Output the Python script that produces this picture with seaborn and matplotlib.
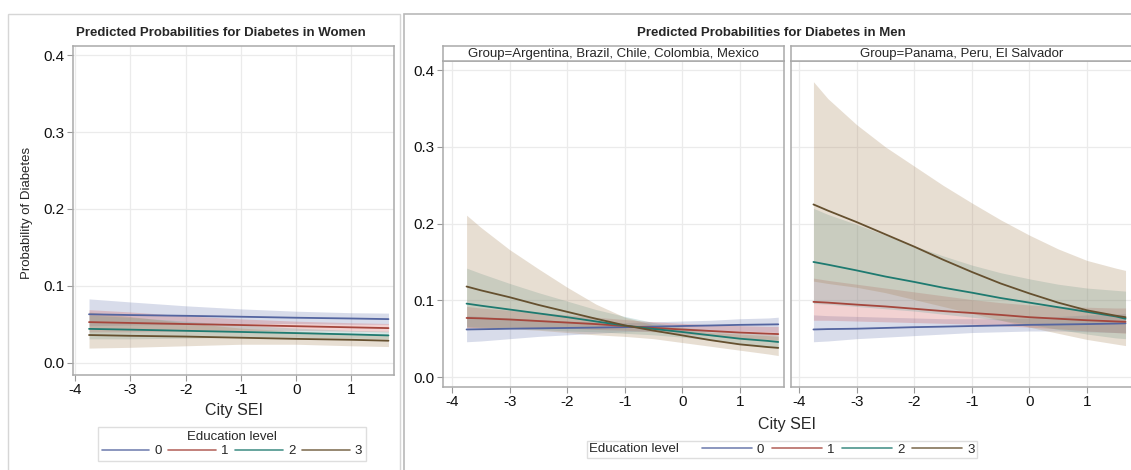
import numpy as np
import pandas as pd
import seaborn as sns
import matplotlib.pyplot as plt
from matplotlib.lines import Line2D
from matplotlib.patches import Rectangle
from matplotlib.offsetbox import HPacker

sns.set_style("whitegrid")
plt.rcParams['font.family'] = ['Liberation Sans', 'DejaVu Sans']
plt.rcParams['axes.unicode_minus'] = False

sei_women = [-3.75, -3, -2, -1, 0, 1, 1.67]
sei_men = [-3.75, -3.5, -3, -2.5, -2, -1.5, -1, -0.5, 0, 0.5, 1, 1.5, 1.67]
edu_levels = [0, 1, 2, 3]

# Women: predicted probability and confidence limits per education level
women_mid = {
    0: [0.063, 0.062, 0.061, 0.0598, 0.0585, 0.0575, 0.0567],
    1: [0.0528, 0.0517, 0.0503, 0.049, 0.0475, 0.046, 0.045],
    2: [0.044, 0.043, 0.0415, 0.040, 0.0385, 0.0368, 0.0355],
    3: [0.036, 0.035, 0.034, 0.0325, 0.031, 0.0298, 0.0286],
}
women_lo = {
    0: [0.048, 0.049, 0.050, 0.051, 0.051, 0.050, 0.050],
    1: [0.040, 0.040, 0.041, 0.042, 0.042, 0.041, 0.040],
    2: [0.031, 0.031, 0.032, 0.033, 0.033, 0.032, 0.031],
    3: [0.019, 0.020, 0.022, 0.024, 0.024, 0.022, 0.021],
}
women_hi = {
    0: [0.083, 0.079, 0.074, 0.070, 0.067, 0.065, 0.0645],
    1: [0.069, 0.066, 0.061, 0.057, 0.054, 0.052, 0.051],
    2: [0.062, 0.059, 0.054, 0.049, 0.045, 0.042, 0.041],
    3: [0.066, 0.060, 0.052, 0.045, 0.041, 0.038, 0.037],
}

# Men, Group = Argentina, Brazil, Chile, Colombia, Mexico
men_a_mid = {
    0: [0.062, 0.0623, 0.063, 0.0635, 0.064, 0.0645, 0.065, 0.0657, 0.0665, 0.0672, 0.068, 0.0685, 0.0687],
    1: [0.077, 0.0765, 0.075, 0.073, 0.071, 0.069, 0.0665, 0.064, 0.062, 0.060, 0.058, 0.0565, 0.056],
    2: [0.0957, 0.093, 0.088, 0.083, 0.078, 0.0725, 0.067, 0.0627, 0.0587, 0.0543, 0.050, 0.047, 0.0457],
    3: [0.118, 0.113, 0.104, 0.094, 0.085, 0.076, 0.0674, 0.0605, 0.0543, 0.048, 0.0426, 0.039, 0.038],
}
men_a_lo = {
    0: [0.046, 0.047, 0.050, 0.053, 0.055, 0.057, 0.059, 0.060, 0.060, 0.060, 0.060, 0.059, 0.058],
    1: [0.064, 0.064, 0.065, 0.064, 0.064, 0.062, 0.061, 0.059, 0.056, 0.054, 0.051, 0.049, 0.048],
    2: [0.066, 0.065, 0.064, 0.062, 0.060, 0.059, 0.057, 0.055, 0.052, 0.048, 0.043, 0.039, 0.038],
    3: [0.065, 0.064, 0.063, 0.061, 0.058, 0.055, 0.053, 0.050, 0.045, 0.040, 0.035, 0.030, 0.028],
}
men_a_hi = {
    0: [0.080, 0.079, 0.077, 0.075, 0.073, 0.072, 0.071, 0.072, 0.073, 0.074, 0.076, 0.077, 0.078],
    1: [0.092, 0.090, 0.087, 0.084, 0.081, 0.078, 0.075, 0.072, 0.070, 0.068, 0.067, 0.066, 0.066],
    2: [0.142, 0.135, 0.122, 0.110, 0.099, 0.088, 0.079, 0.071, 0.065, 0.061, 0.058, 0.056, 0.055],
    3: [0.211, 0.195, 0.166, 0.141, 0.117, 0.095, 0.078, 0.068, 0.062, 0.058, 0.056, 0.054, 0.053],
}

# Men, Group = Panama, Peru, El Salvador
men_b_mid = {
    0: [0.062, 0.0625, 0.063, 0.064, 0.065, 0.0657, 0.0665, 0.0672, 0.068, 0.0685, 0.069, 0.0697, 0.070],
    1: [0.098, 0.097, 0.0944, 0.092, 0.089, 0.086, 0.0835, 0.081, 0.078, 0.076, 0.074, 0.0725, 0.072],
    2: [0.150, 0.1465, 0.139, 0.131, 0.124, 0.1165, 0.110, 0.103, 0.097, 0.091, 0.085, 0.079, 0.076],
    3: [0.225, 0.217, 0.202, 0.186, 0.170, 0.153, 0.137, 0.122, 0.109, 0.097, 0.087, 0.080, 0.078],
}
men_b_lo = {
    0: [0.046, 0.047, 0.050, 0.052, 0.054, 0.056, 0.058, 0.059, 0.060, 0.060, 0.059, 0.058, 0.058],
    1: [0.074, 0.074, 0.073, 0.072, 0.071, 0.070, 0.069, 0.067, 0.065, 0.063, 0.060, 0.058, 0.057],
    2: [0.096, 0.095, 0.092, 0.089, 0.086, 0.082, 0.078, 0.074, 0.069, 0.062, 0.056, 0.051, 0.050],
    3: [0.125, 0.122, 0.117, 0.110, 0.101, 0.092, 0.083, 0.074, 0.065, 0.057, 0.049, 0.043, 0.041],
}
men_b_hi = {
    0: [0.081, 0.080, 0.079, 0.078, 0.077, 0.076, 0.076, 0.076, 0.077, 0.079, 0.081, 0.082, 0.083],
    1: [0.129, 0.126, 0.121, 0.116, 0.111, 0.106, 0.101, 0.097, 0.094, 0.092, 0.091, 0.090, 0.090],
    2: [0.220, 0.212, 0.199, 0.185, 0.171, 0.158, 0.146, 0.136, 0.128, 0.121, 0.116, 0.113, 0.112],
    3: [0.385, 0.363, 0.329, 0.300, 0.275, 0.250, 0.227, 0.205, 0.185, 0.167, 0.152, 0.142, 0.139],
}

x_ticks = [-4, -3, -2, -1, 0, 1]
y_ticks = [0.0, 0.1, 0.2, 0.3, 0.4]

line_colors = {0: "#5465a0", 1: "#a5463c", 2: "#1e7a70", 3: "#65502f"}
fill_colors = {0: "#6f7eb3", 1: "#d05b5b", 2: "#66a5a0", 3: "#a9865b"}

W, H = 1131, 470


def fig_rect(l, t, r, b):
    return [l / W, 1 - b / H, (r - l) / W, (b - t) / H]


def draw_panel(ax, xs, mid, lo, hi, xlim, ylim, show_y=True):
    rows = []
    for lvl in edu_levels:
        for xv, yv in zip(xs, mid[lvl]):
            rows.append({"sei": xv, "prob": yv, "edu": lvl})
    df = pd.DataFrame(rows)
    for lvl in edu_levels:
        ax.fill_between(xs, lo[lvl], hi[lvl], color=fill_colors[lvl], alpha=0.27, lw=0)
    sns.lineplot(data=df, x="sei", y="prob", hue="edu", palette=line_colors,
                 ax=ax, legend=False, linewidth=1.3)
    ax.set_xlim(*xlim)
    ax.set_ylim(*ylim)
    ax.set_xticks(x_ticks)
    ax.set_yticks(y_ticks)
    ax.yaxis.set_major_formatter("{x:.1f}")
    ax.set_xlabel("")
    ax.set_ylabel("")
    ax.grid(color="#ebebeb", lw=0.9)
    ax.tick_params(bottom=True, left=show_y, length=4, color="#999999",
                   labelsize=11, pad=2, labelcolor="#111111")
    if not show_y:
        ax.set_yticklabels([])
    for sp in ax.spines.values():
        sp.set_color("#aaaaaa")
        sp.set_linewidth(1.1)


fig = plt.figure(figsize=(W / 100, H / 100), dpi=100)

# outer frames
fig.add_artist(Rectangle((8 / W, -0.01), (400 - 8) / W, 1 - 14 / H + 0.01,
                         transform=fig.transFigure, fill=False, ec="#d6d6d6", lw=1))
fig.add_artist(Rectangle((404 / W, -0.01), (1140 - 404) / W, 1 - 14 / H + 0.01,
                         transform=fig.transFigure, fill=False, ec="#b9b9b9", lw=1.2))

# women
ax_w = fig.add_axes(fig_rect(73, 46, 394, 375))
draw_panel(ax_w, sei_women, women_mid, women_lo, women_hi, (-4.04, 1.77), (-0.016, 0.412))
fig.text(221 / W, 1 - 33 / H, "Predicted Probabilities for Diabetes in Women",
         ha="center", va="center", fontsize=9.5, fontweight="bold")
fig.text(27 / W, 1 - 213 / H, "Probability of Diabetes", rotation=90,
         ha="center", va="center", fontsize=9.5)
fig.text(234 / W, 1 - 410 / H, "City SEI", ha="center", va="center", fontsize=11.5)

# men
ax_a = fig.add_axes(fig_rect(443, 61, 784, 387))
draw_panel(ax_a, sei_men, men_a_mid, men_a_lo, men_a_hi, (-4.16, 1.77), (-0.013, 0.412))
ax_b = fig.add_axes(fig_rect(791, 61, 1133, 387))
draw_panel(ax_b, sei_men, men_b_mid, men_b_lo, men_b_hi, (-4.14, 1.80), (-0.013, 0.412),
           show_y=False)

for l, r, label in [(443, 784, "Group=Argentina, Brazil, Chile, Colombia, Mexico"),
                    (791, 1133, "Group=Panama, Peru, El Salvador")]:
    hdr = fig.add_axes(fig_rect(l, 46, r, 61))
    hdr.set_xticks([])
    hdr.set_yticks([])
    hdr.grid(False)
    hdr.set_facecolor("white")
    for sp in hdr.spines.values():
        sp.set_color("#aaaaaa")
        sp.set_linewidth(1.1)
    hdr.text(0.5, 0.5, label, ha="center", va="center", fontsize=9.5, transform=hdr.transAxes)

fig.text(771 / W, 1 - 33 / H, "Predicted Probabilities for Diabetes in Men",
         ha="center", va="center", fontsize=9.5, fontweight="bold")
fig.text(787 / W, 1 - 425 / H, "City SEI", ha="center", va="center", fontsize=11.5)

# legends
handles = [Line2D([], [], color=line_colors[l], lw=1.2, alpha=0.8) for l in edu_levels]
labels = [str(l) for l in edu_levels]

leg_w = fig.legend(handles, labels, title="Education level", ncol=4, loc="center",
                   bbox_to_anchor=(232 / W, 1 - 444 / H), fontsize=9.5, title_fontsize=9.5,
                   frameon=True, fancybox=False, edgecolor="#d6d6d6", borderpad=0.3,
                   handlelength=3.6, handletextpad=0.4, columnspacing=0.5, labelspacing=0.2)
leg_w.get_frame().set_linewidth(1)

leg_m = fig.legend(handles, labels, title="Education level", ncol=4, loc="center",
                   bbox_to_anchor=(782 / W, 1 - 449.5 / H), fontsize=9.5, title_fontsize=9.5,
                   frameon=True, fancybox=False, edgecolor="#d6d6d6", borderpad=0.15,
                   handlelength=3.8, handletextpad=0.4, columnspacing=0.55)
leg_m.get_frame().set_linewidth(1)
# put the title on the same row as the entries
leg_m._legend_box = HPacker(pad=leg_m.borderpad * 9.5, sep=16, align="center",
                            children=[leg_m._legend_title_box, leg_m._legend_handle_box])
leg_m._legend_box.set_figure(fig)
leg_m._legend_box.set_offset(leg_m._findoffset)

fig.savefig("out.png", dpi=100)
